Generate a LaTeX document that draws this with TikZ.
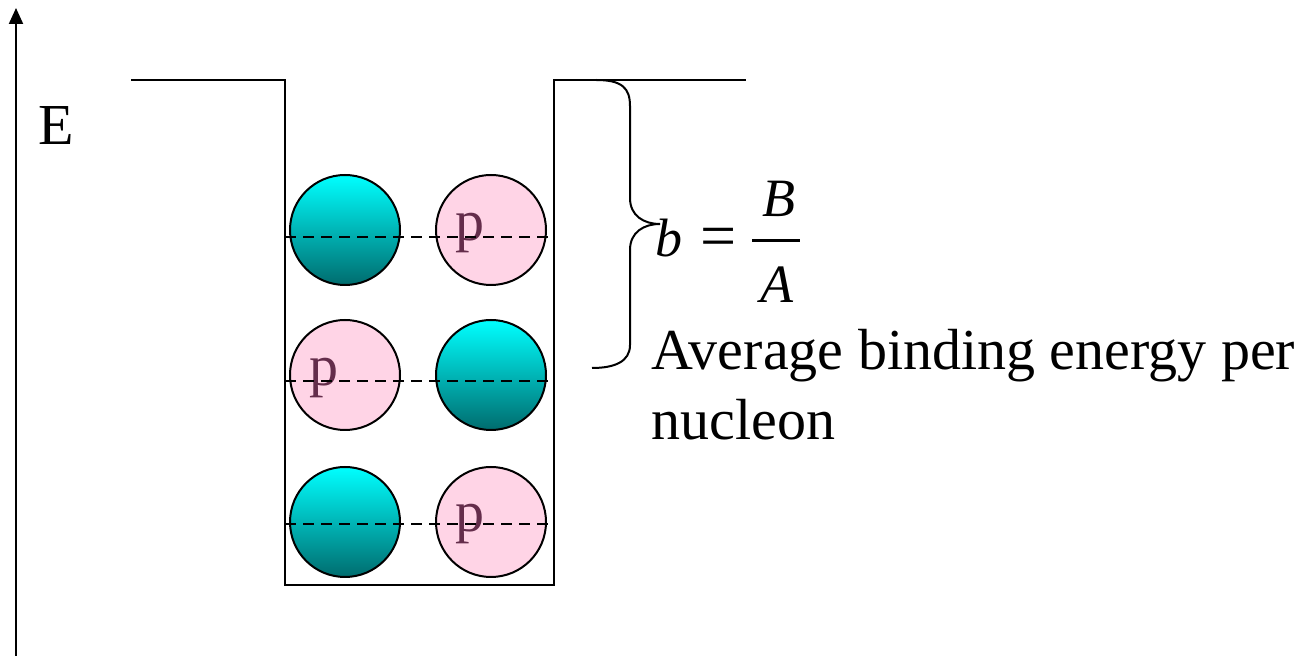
\documentclass[tikz,border=0pt]{standalone}
\usepackage{fontspec}
\setmainfont{Liberation Serif}
\usetikzlibrary{arrows.meta}

\definecolor{protonpink}{RGB}{255,212,230}
\definecolor{ptext}{RGB}{100,45,75}
\definecolor{ndark}{RGB}{0,108,110}

\begin{document}
\begin{tikzpicture}[
        x=0.5pt, y=-0.5pt,
        big/.style={font=\fontsize{29}{35}\selectfont, inner sep=0pt},
        frm/.style={font=\fontsize{27}{32}\selectfont, inner sep=0pt},
        well/.style={draw=black, line width=1.2pt},
        axis/.style={draw=black, line width=1pt,
                     -{Triangle[length=8pt, width=7pt]}},
        level/.style={draw=black, line width=1.1pt, dash pattern=on 5.5pt off 3.5pt},
        nucl/.style={circle, draw=black, line width=1pt, minimum size=55pt,
                     inner sep=0pt},
        neutron/.style={nucl, top color=cyan, bottom color=ndark},
        proton/.style={nucl, fill=protonpink},
        ptxt/.style={big, text=ptext, anchor=base},
        brace/.style={draw=black, line width=1pt},
    ]

    \useasboundingbox (0,0) rectangle (1312,656);

    % energy axis
    \coordinate (ax0) at (16,656);
    \coordinate (ax1) at (16,8);
    \draw[axis] (ax0) -- (ax1);
    \node[big, anchor=base west] (elabel) at (38,145) {E};

    % potential well
    \coordinate (wtl) at (131,80);
    \coordinate (wl)  at (285,80);
    \coordinate (wbl) at (285,585);
    \coordinate (wbr) at (554,585);
    \coordinate (wr)  at (554,80);
    \coordinate (wtr) at (746,80);
    \draw[well] (wtl) -- (wl) -- (wbl) -- (wbr) -- (wr) -- (wtr);

    % nucleons
    \node[neutron] (n1) at (345,230) {};
    \node[proton]  (p1) at (491,230) {};
    \node[proton]  (p2) at (345,375) {};
    \node[neutron] (n2) at (491,375) {};
    \node[neutron] (n3) at (345,522) {};
    \node[proton]  (p3) at (491,522) {};

    \node[ptxt] (p1t) at (470,241) {p};
    \node[ptxt] (p2t) at (324,386) {p};
    \node[ptxt] (p3t) at (470,532) {p};

    % energy levels
    \coordinate (lv1a) at (285,237);
    \coordinate (lv1b) at (554,237);
    \coordinate (lv2a) at (285,381);
    \coordinate (lv2b) at (554,381);
    \coordinate (lv3a) at (285,524);
    \coordinate (lv3b) at (554,524);
    \draw[level] (lv1a) -- (lv1b);
    \draw[level] (lv2a) -- (lv2b);
    \draw[level] (lv3a) -- (lv3b);

    % brace
    \coordinate (btop) at (596,80);
    \coordinate (btip) at (660,224);
    \coordinate (bbot) at (592,368);
    \draw[brace] (btop) .. controls (622,80) and (630,88) .. (630,106)
        -- (630,198) .. controls (630,216) and (644,224) .. (btip)
        .. controls (644,224) and (630,232) .. (630,250)
        -- (630,345) .. controls (630,362) and (614,368) .. (bbot);

    % b = B/A
    \node[frm, anchor=base west] (bval) at (655,257) {\textit{b}};
    \node[frm, font=\fontsize{32}{36}\selectfont, anchor=base west] (eq)
        at (700,258) {=};
    \node[frm, anchor=base] (fB) at (779,217) {\textit{B}};
    \node[frm, anchor=base] (fA) at (777,303) {\textit{A}};
    \coordinate (barL) at (752,241);
    \coordinate (barR) at (800,241);
    \draw[line width=1.5pt] (barL) -- (barR);

    \node[big, anchor=base west, align=left] (avg) at (651,440)
        {Average binding energy per\\nucleon};

\end{tikzpicture}
\end{document}
